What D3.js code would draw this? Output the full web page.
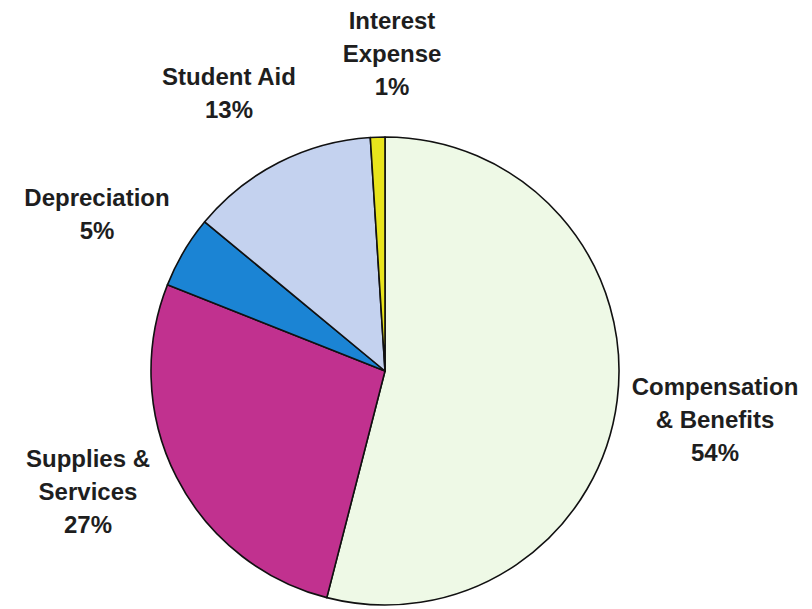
<!DOCTYPE html>
<html>
<head>
<meta charset="utf-8">
<script src="https://cdn.jsdelivr.net/npm/d3@7"></script>
<style>
  html, body { margin: 0; padding: 0; background: #ffffff; }
  svg { display: block; }
  .lbl { font-family: "Liberation Sans", Arial, sans-serif; font-weight: bold; font-size: 24px; fill: #1e1e1e; }
</style>
</head>
<body>
<svg id="chart" width="812" height="609"></svg>
<script>
// Expense categories (line breaks mark how each label wraps)
const categories = [
  "Compensation\n& Benefits",
  "Supplies &\nServices",
  "Depreciation",
  "Student Aid",
  "Interest\nExpense"
];
// Share of total expenses, in percent
const shares = [54, 27, 5, 13, 1];
// Slice fills, in category order
const colors = ["#eef9e6", "#c1318f", "#1b84d4", "#c4d2ef", "#e8e41c"];

// Label placement: centre x and baseline of the first line
const labelSpots = [
  { x: 715, y: 395 },
  { x: 88,  y: 467 },
  { x: 97,  y: 206 },
  { x: 229, y: 85 },
  { x: 392, y: 29 }
];
const lineGap = 33;

const svg = d3.select("#chart");
const cx = 385, cy = 371, radius = 234;

const rows = categories.map((c, i) => ({ name: c, value: shares[i], color: colors[i] }));

const pie = d3.pie()
  .value(d => d.value)
  .sort(null)
  .startAngle(0)
  .endAngle(2 * Math.PI);

const arc = d3.arc().innerRadius(0).outerRadius(radius);

const g = svg.append("g").attr("transform", `translate(${cx},${cy})`);

g.selectAll("path.slice")
  .data(pie(rows))
  .join("path")
  .attr("class", "slice")
  .attr("d", arc)
  .attr("fill", d => d.data.color)
  .attr("stroke", "#111")
  .attr("stroke-width", 1.6)
  .attr("stroke-linejoin", "round");

// Category labels with percentage on the last line
const labels = svg.selectAll("text.lbl")
  .data(rows)
  .join("text")
  .attr("class", "lbl")
  .attr("text-anchor", "middle");

labels.each(function (d, i) {
  const lines = d.name.split("\n").concat([d3.format(".0f")(d.value) + "%"]);
  const spot = labelSpots[i];
  d3.select(this).selectAll("tspan")
    .data(lines)
    .join("tspan")
    .attr("x", spot.x)
    .attr("y", (l, j) => spot.y + j * lineGap)
    .text(l => l);
});
</script>
</body>
</html>
